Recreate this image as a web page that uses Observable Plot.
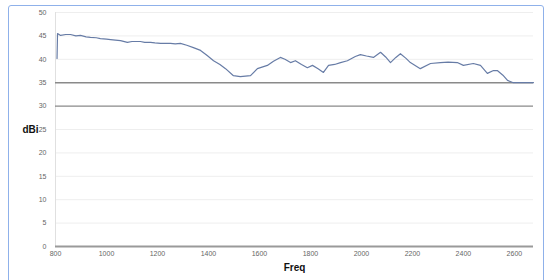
<!DOCTYPE html>
<html>
<head>
<meta charset="utf-8">
<script src="https://cdn.jsdelivr.net/npm/d3@7"></script>
<script src="https://cdn.jsdelivr.net/npm/@observablehq/plot@0.6"></script>
<style>
  html, body { margin: 0; padding: 0; background: #fff; }
  #wrap { position: relative; width: 544px; height: 280px; overflow: hidden; }
  #frame { position: absolute; left: 8px; top: 5px; width: 534px; height: 290px;
           border: 1px solid #8fb1ea; border-radius: 3px; pointer-events: none; }
</style>
</head>
<body>
<div id="wrap"><div id="frame"></div></div>
<script>
// Frequency (x) values
const freq = [806, 808, 820, 840, 859, 880, 898, 920, 937, 960, 976, 1000, 1016, 1035, 1055, 1082, 1100, 1114, 1133, 1150, 1173, 1190, 1212, 1251, 1270, 1290, 1315, 1341, 1369, 1395, 1420, 1445, 1467, 1498, 1525, 1565, 1592, 1631, 1655, 1682, 1700, 1722, 1741, 1765, 1788, 1808, 1830, 1851, 1871, 1895, 1918, 1945, 1976, 1996, 2020, 2047, 2075, 2095, 2114, 2135, 2153, 2175, 2192, 2231, 2271, 2310, 2340, 2376, 2400, 2439, 2467, 2494, 2518, 2533, 2555, 2573, 2596, 2620, 2643, 2675];
// Gain (y) values
const gain = [40.2, 45.5, 45.1, 45.3, 45.3, 45.0, 45.1, 44.8, 44.7, 44.6, 44.4, 44.3, 44.2, 44.1, 44.0, 43.6, 43.8, 43.8, 43.8, 43.6, 43.6, 43.5, 43.4, 43.4, 43.3, 43.4, 43.0, 42.5, 41.9, 40.8, 39.7, 38.9, 38.0, 36.5, 36.3, 36.5, 38.0, 38.7, 39.6, 40.4, 40.0, 39.3, 39.7, 38.9, 38.2, 38.7, 38.0, 37.2, 38.7, 38.9, 39.3, 39.7, 40.6, 41.0, 40.7, 40.4, 41.5, 40.5, 39.3, 40.4, 41.2, 40.2, 39.3, 38.0, 39.1, 39.3, 39.4, 39.3, 38.7, 39.1, 38.7, 37.0, 37.6, 37.6, 36.6, 35.5, 35.0, 35.0, 35.0, 35.0];
const xTicks = [800, 1000, 1200, 1400, 1600, 1800, 2000, 2200, 2400, 2600];
const yTicks = [0, 5, 10, 15, 20, 25, 30, 35, 40, 45, 50];
const refLines = [35, 30];
const xLabel = "Freq";
const yLabel = "dBi";

const data = freq.map((f, i) => ({f, g: gain[i]}));

const chart = Plot.plot({
  width: 544,
  height: 280,
  marginLeft: 55,
  marginRight: 11,
  marginTop: 12,
  marginBottom: 34,
  style: {fontFamily: "Liberation Sans, Arial, sans-serif", fontSize: "7px", color: "#666", background: "transparent"},
  x: {domain: [800, 2675], ticks: xTicks, tickSize: 0, tickPadding: 5, label: null, tickFormat: d => String(d)},
  y: {domain: [0, 50], ticks: yTicks, tickSize: 0, tickPadding: 9, label: null},
  marks: [
    Plot.ruleY(yTicks.filter(t => t > 0 && !refLines.includes(t)), {stroke: "#eeeeee", strokeWidth: 1}),
    Plot.ruleX([800], {stroke: "#e0e0e0", strokeWidth: 1}),
    Plot.ruleY(refLines, {stroke: "#8a8a8a", strokeWidth: 1.4}),
    Plot.ruleY([0], {stroke: "#9a9a9a", strokeWidth: 2}),
    Plot.line(data, {x: "f", y: "g", stroke: "#677ca6", strokeWidth: 1.2}),
    Plot.text([yLabel], {frameAnchor: "left", dx: -33, text: d => d, fontWeight: "bold", fontSize: 10, fill: "#111"}),
    Plot.text([xLabel], {frameAnchor: "bottom", dy: 24, text: d => d, fontWeight: "bold", fontSize: 10, fill: "#111"})
  ]
});
chart.style.position = "absolute";
chart.style.left = "0";
chart.style.top = "0";
document.getElementById("wrap").appendChild(chart);
</script>
</body>
</html>
